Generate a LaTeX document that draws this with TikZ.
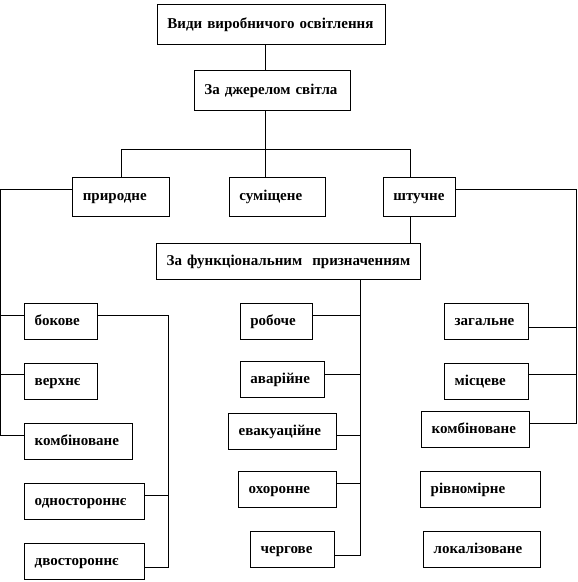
\documentclass[tikz,border=0pt]{standalone}
\usepackage{fontspec}
\setmainfont{Liberation Serif}
\begin{document}
\begin{tikzpicture}[x=1pt,y=-1pt,
  box/.style={draw, line width=0.8pt, anchor=north west, inner xsep=10pt, inner ysep=0pt,
    align=left, font=\fontsize{15}{17}\selectfont\bfseries, minimum height=36pt,
    text height=10.5pt, text depth=2pt},
  conn/.style={line width=0.8pt}]
\useasboundingbox (0,0) rectangle (578,582);
% level 0-2
\node[box, text width=208pt, minimum height=40pt] (top) at (157,4) {Види виробничого освітлення};
\node[box, text width=136pt, minimum height=40pt] (src) at (194,70) {За джерелом світла};
\node[box, text width=76.6pt, minimum height=39.5pt] (nat) at (72.4,176.5) {природне};
\node[box, text width=76pt, minimum height=39.5pt] (mix) at (229,176.5) {суміщене};
\node[box, text width=52pt, minimum height=39.5pt] (art) at (383,176.5) {штучне};
\node[box, text width=244pt] (fun) at (156.3,243.3) {За функціональним~ призначенням};
% left column
\node[box, text width=52.4pt] (bok) at (24.3,303.3) {бокове};
\node[box, text width=52.4pt] (ver) at (24.3,363.3) {верхнє};
\node[box, text width=88pt] (kom1) at (24.3,423.3) {комбіноване};
\node[box, text width=100pt] (odn) at (24.3,483.3) {одностороннє};
\node[box, text width=100pt] (dvo) at (24.3,543.3) {двостороннє};
% middle column
\node[box, text width=52.3pt] (rob) at (240,303.3) {робоче};
\node[box, text width=64.3pt] (ava) at (240,361.3) {аварійне};
\node[box, text width=88pt] (eva) at (228.3,413.3) {евакуаційне};
\node[box, text width=78pt] (okh) at (238.3,471.3) {охоронне};
\node[box, text width=64pt] (che) at (250.3,531.3) {чергове};
% right column
\node[box, text width=64pt] (zag) at (444.3,303.3) {загальне};
\node[box, text width=64pt] (mis) at (444.3,363.3) {місцеве};
\node[box, text width=88pt] (kom2) at (421.3,411.3) {комбіноване};
\node[box, text width=100pt] (riv) at (420.3,471.3) {рівномірне};
\node[box, text width=97pt] (lok) at (423.3,531.3) {локалізоване};
% helper coordinates
\coordinate (xa) at (265,0);
\coordinate (bus) at (0,149.5);
\coordinate (xl) at (0.6,0);
\coordinate (xlb) at (168.3,0);
\coordinate (xm) at (360.3,0);
\coordinate (xr) at (576.3,0);
\coordinate (xart) at (410,0);
% top connectors
\draw[conn] (top.south -| xa) -- (src.north -| xa);
\draw[conn] (src.south -| xa) -- (mix.north -| xa);
\draw[conn] (nat.north) -- (nat.north |- bus) -- (bus -| xart) -- (art.north -| xart);
\draw[conn] (art.south -| xart) -- (fun.north -| xart);
% left bus
\coordinate (nl) at (0,189.4);
\draw[conn] (nat.west |- nl) -- (xl |- nl) -- (xl |- 0,435) -- (kom1.west |- 0,435);
\draw[conn] (xl |- 0,315.3) -- (bok.west |- 0,315.3);
\draw[conn] (xl |- 0,374.3) -- (ver.west |- 0,374.3);
% left-right bus
\draw[conn] (bok.east |- 0,315.3) -- (xlb |- 0,315.3) -- (xlb |- 0,567.3) -- (dvo.east |- 0,567.3);
\draw[conn] (odn.east |- 0,495.3) -- (xlb |- 0,495.3);
% middle bus
\draw[conn] (fun.south -| xm) -- (xm |- 0,555) -- (che.east |- 0,555);
\draw[conn] (rob.east |- 0,315.3) -- (xm |- 0,315.3);
\draw[conn] (ava.east |- 0,374.7) -- (xm |- 0,374.7);
\draw[conn] (eva.east |- 0,435) -- (xm |- 0,435);
\draw[conn] (okh.east |- 0,483.3) -- (xm |- 0,483.3);
% right bus
\draw[conn] (art.east |- nl) -- (xr |- nl) -- (xr |- 0,423) -- (kom2.east |- 0,423);
\draw[conn] (zag.east |- 0,327.3) -- (xr |- 0,327.3);
\draw[conn] (mis.east |- 0,374.7) -- (xr |- 0,374.7);
\end{tikzpicture}
\end{document}
